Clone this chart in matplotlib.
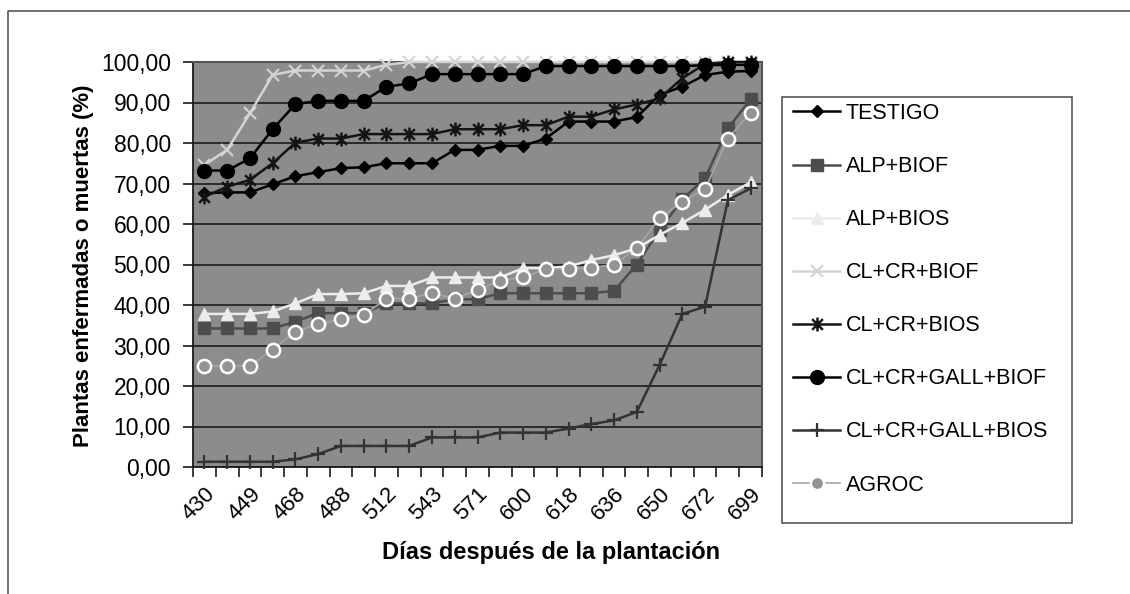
import matplotlib
matplotlib.use("Agg")
import matplotlib.pyplot as plt
from matplotlib.path import Path
from matplotlib.lines import Line2D
from matplotlib.patches import Rectangle
import numpy as np

plt.rcParams['font.family'] = ['Liberation Sans', 'DejaVu Sans']

# categories (only every other day label is printed on the axis)
dias = ["430", "", "449", "", "468", "", "488", "", "512", "", "543", "", "571",
        "", "600", "", "618", "", "636", "", "650", "", "672", "", "699"]

testigo = [67.6, 67.8, 67.8, 69.8, 71.8, 72.8, 73.8, 74.0, 75.0, 75.0, 75.0, 78.3, 78.3,
           79.3, 79.3, 81.1, 85.3, 85.3, 85.3, 86.4, 91.9, 93.9, 96.8, 97.6, 97.8]
alp_biof = [34.2, 34.2, 34.2, 34.2, 35.9, 38.0, 38.0, 38.0, 40.4, 40.4, 40.4, 41.4, 41.4,
            42.9, 42.9, 42.9, 42.9, 42.9, 43.5, 50.0, 58.5, 66.1, 71.3, 83.6, 90.8]
alp_bios = [37.8, 37.8, 37.8, 38.4, 40.4, 42.7, 42.7, 42.9, 44.7, 44.7, 46.8, 46.8, 46.8,
            46.8, 49.1, 49.1, 49.5, 51.1, 52.3, 54.0, 57.3, 60.3, 63.5, 67.2, 70.3]
cl_cr_biof = [74.6, 78.3, 87.3, 96.8, 97.9, 97.9, 97.9, 97.9, 99.3, 100, 100, 100, 100,
              100, 100, 100, 100, 100, 100, 100, 100, 100, 100, 100, 100]
cl_cr_bios = [66.7, 69.2, 70.9, 75.0, 80.1, 81.1, 81.1, 82.2, 82.2, 82.2, 82.2, 83.4, 83.4,
              83.4, 84.4, 84.4, 86.5, 86.5, 88.3, 89.5, 91.0, 96.0, 99.5, 100, 100]
gall_biof = [73.2, 73.2, 76.2, 83.4, 89.6, 90.4, 90.4, 90.4, 93.9, 94.7, 97.0, 97.0, 97.0,
             97.0, 97.0, 99.0, 99.0, 99.0, 99.0, 99.0, 99.0, 99.0, 99.2, 99.3, 99.3]
gall_bios = [1.3, 1.3, 1.3, 1.3, 1.9, 3.2, 5.2, 5.2, 5.2, 5.2, 7.3, 7.3, 7.3,
             8.5, 8.5, 8.5, 9.5, 10.6, 11.5, 13.6, 25.2, 37.8, 39.6, 65.9, 68.8]
agroc = [25.0, 25.0, 25.0, 29.0, 33.4, 35.3, 36.5, 37.5, 41.6, 41.6, 42.9, 41.6, 43.7,
         46.0, 46.8, 48.9, 48.9, 49.2, 50.0, 54.0, 61.4, 65.5, 68.6, 81.1, 87.5]

# excel-like asterisk marker (x plus vertical bar)
asterisk = Path([(-1, -1), (1, 1), (-1, 1), (1, -1), (0, -1.3), (0, 1.3)],
                [Path.MOVETO, Path.LINETO, Path.MOVETO, Path.LINETO, Path.MOVETO, Path.LINETO])

series = [
    ("TESTIGO", testigo, dict(color='#000000', marker='D', ms=6.5, mfc='#000000', mec='#000000')),
    ("ALP+BIOF", alp_biof, dict(color='#4d4d4d', marker='s', ms=8.5, mfc='#4d4d4d', mec='#4d4d4d')),
    ("ALP+BIOS", alp_bios, dict(color='#ececec', marker='^', ms=9, mfc='#ececec', mec='#ececec')),
    ("CL+CR+BIOF", cl_cr_biof, dict(color='#d4d4d4', marker='x', ms=9, mew=1.5, mec='#d4d4d4')),
    ("CL+CR+BIOS", cl_cr_bios, dict(color='#141414', marker=asterisk, ms=10, mew=1.8,
                                    mfc='none', mec='#141414')),
    ("CL+CR+GALL+BIOF", gall_biof, dict(color='#000000', marker='o', ms=10, mfc='#000000', mec='#000000')),
    ("CL+CR+GALL+BIOS", gall_bios, dict(color='#333333', marker='+', ms=10, mew=1.6, mec='#333333')),
    ("AGROC", agroc, dict(color='#a6a6a6', marker='o', ms=9.5, mfc='#939393', mec='white', mew=1.8)),
]

W, H = 1130, 594
fig = plt.figure(figsize=(W / 100, H / 100), dpi=100)
ax = fig.add_axes([193 / W, 1 - 467 / H, 569 / W, 405 / H])
ax.set_facecolor('#8c8c8c')

x = np.arange(len(dias))
handles = []
for name, vals, st in series:
    lw = 1.2 if name == "AGROC" else 1.8
    ln, = ax.plot(x, vals, lw=lw, label=name, clip_on=False, zorder=3, **st)
    handles.append(ln)

ax.set_xlim(-0.5, len(dias) - 0.5)
ax.set_ylim(0, 100)
ax.set_yticks(np.arange(0, 101, 10))
ax.set_yticklabels([f"{v:.2f}".replace('.', ',') for v in np.arange(0, 101, 10)], fontsize=16.5)
ax.yaxis.grid(True, color='#1a1a1a', lw=1.2)
ax.set_axisbelow(True)
ax.tick_params(axis='y', length=7, width=1.2, pad=9, color='#1a1a1a')

ax.set_xticks(x[::2])
ax.set_xticklabels(dias[::2], rotation=45, ha='right', rotation_mode='anchor', fontsize=16)
ax.set_xticks(np.arange(-0.5, len(dias), 1), minor=True)
ax.tick_params(axis='x', which='major', length=0, pad=12)
ax.tick_params(axis='x', which='minor', length=7, width=1.2, color='#1a1a1a')

for s in ['left', 'bottom']:
    ax.spines[s].set_color('#1a1a1a')
    ax.spines[s].set_linewidth(1.3)
for s in ['right', 'top']:
    ax.spines[s].set_color('#555555')
    ax.spines[s].set_linewidth(1.5)

fig.text(84 / W, 1 - 266 / H, "Plantas enfermadas o muertas (%)", rotation=90,
         ha='center', va='center', fontsize=16, fontweight='bold')
fig.text(551 / W, 1 - 552 / H, "Días después de la plantación",
         ha='center', va='center', fontsize=17, fontweight='bold')

# legend with an excel style box
fig.patches.append(Rectangle((782 / W, 1 - 523 / H), 290 / W, 426 / H, transform=fig.transFigure,
                             fill=False, edgecolor='#555555', lw=1.2))
fig.legend(handles=handles, loc='upper left', bbox_to_anchor=(793 / W, 1 - 103 / H),
           frameon=False, fontsize=15.5, borderpad=0, borderaxespad=0,
           handlelength=2.2, handletextpad=0.25, labelspacing=1.49)

# outer chart frame (top and left)
fig.lines.append(Line2D([8 / W, 8 / W, 1], [0, 1 - 11 / H, 1 - 11 / H],
                        transform=fig.transFigure, color='#555555', lw=1.2))

fig.savefig("out.png", dpi=100)
